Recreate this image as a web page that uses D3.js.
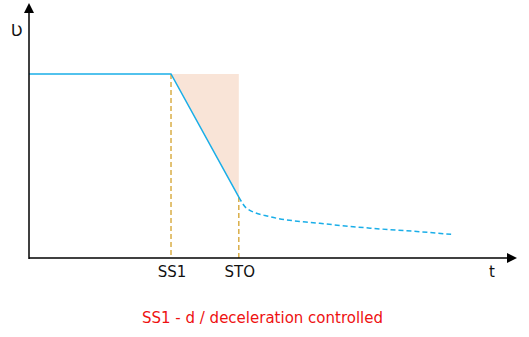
<!DOCTYPE html>
<html><head><meta charset="utf-8">
<script src="https://cdn.jsdelivr.net/npm/d3@7"></script>
<style>body{margin:0;background:#fff}svg{display:block}</style>
</head><body>
<script>
// Data (time in % of axis, speed in % of axis)
const markerLabels = ["SS1", "STO"];
const markerTimes = [29.1, 43.0];
const constantSpeed = 72.2;
const stoSpeed = 23.9;
const coastTimes = [43.0, 44.6, 49.4, 59.6, 69.9, 80.1, 86.5];
const coastSpeeds = [23.9, 19.5, 16.2, 13.6, 11.7, 10.3, 9.3];
const axisLabels = ["Ʋ", "t"];
const caption = "SS1 - d / deceleration controlled";

const W = 529, H = 337;
const svg = d3.select("body").append("svg").attr("width", W).attr("height", H);
const x = d3.scaleLinear().domain([0, 100]).range([29, 517]);
const y = d3.scaleLinear().domain([0, 100]).range([258, 3]);
const font = "'DejaVu Sans', Verdana, sans-serif";

// shaded area
svg.append("path")
  .attr("d", d3.line()([[x(markerTimes[0]), y(constantSpeed)], [x(markerTimes[1]), y(constantSpeed)], [x(markerTimes[1]), y(stoSpeed)]]) + "Z")
  .attr("fill", "#f9e4d7");

// vertical dashed markers
svg.append("line").attr("x1", x(markerTimes[0])).attr("x2", x(markerTimes[0]))
  .attr("y1", y(constantSpeed)).attr("y2", y(0))
  .attr("stroke", "#d09a1a").attr("stroke-width", 1.2).attr("stroke-dasharray", "5,3");
svg.append("line").attr("x1", x(markerTimes[1])).attr("x2", x(markerTimes[1]))
  .attr("y1", y(stoSpeed)).attr("y2", y(0))
  .attr("stroke", "#d09a1a").attr("stroke-width", 1.2).attr("stroke-dasharray", "5,3");

// solid speed profile
const solid = [[0, constantSpeed], [markerTimes[0], constantSpeed], [markerTimes[1], stoSpeed]];
svg.append("path")
  .attr("d", d3.line().x(d => x(d[0])).y(d => y(d[1]))(solid))
  .attr("fill", "none").attr("stroke", "#1aaee8").attr("stroke-width", 1.5);

// coasting dashed curve
const coast = coastTimes.map((t, i) => [t, coastSpeeds[i]]);
svg.append("path")
  .attr("d", d3.line().x(d => x(d[0])).y(d => y(d[1])).curve(d3.curveMonotoneX)(coast))
  .attr("fill", "none").attr("stroke", "#1aaee8").attr("stroke-width", 1.5).attr("stroke-dasharray", "5,3");

// axes
const x0 = x(0), yb = y(0);
svg.append("line").attr("x1", x0).attr("x2", x(100) - 8).attr("y1", yb).attr("y2", yb)
  .attr("stroke", "#000").attr("stroke-width", 1.5);
svg.append("line").attr("x1", x0).attr("x2", x0).attr("y1", yb + 1).attr("y2", y(100) + 8)
  .attr("stroke", "#000").attr("stroke-width", 1.5);
svg.append("path").attr("d", `M${x0},${y(100)} L${x0 - 5},${y(100) + 10} L${x0 + 5},${y(100) + 10} Z`).attr("fill", "#000");
svg.append("path").attr("d", `M${x(100)},${yb} L${x(100) - 10},${yb - 5} L${x(100) - 10},${yb + 5} Z`).attr("fill", "#000");

// labels
svg.append("text").attr("x", 16.5).attr("y", 36).attr("text-anchor", "middle")
  .attr("font-family", font).attr("font-size", 16).attr("fill", "#111").text(axisLabels[0]);
svg.append("text").attr("x", 492).attr("y", 277).attr("text-anchor", "middle")
  .attr("font-family", font).attr("font-size", 15).attr("fill", "#111").text(axisLabels[1]);
markerLabels.forEach((l, i) => {
  svg.append("text").attr("x", x(markerTimes[i]) + 1).attr("y", 277).attr("text-anchor", "middle")
    .attr("font-family", font).attr("font-size", 15).attr("fill", "#111").text(l);
});
svg.append("text").attr("x", 262.5).attr("y", 323).attr("text-anchor", "middle")
  .attr("font-family", font).attr("font-size", 15).attr("fill", "#ee1111").text(caption);
</script>
</body></html>
